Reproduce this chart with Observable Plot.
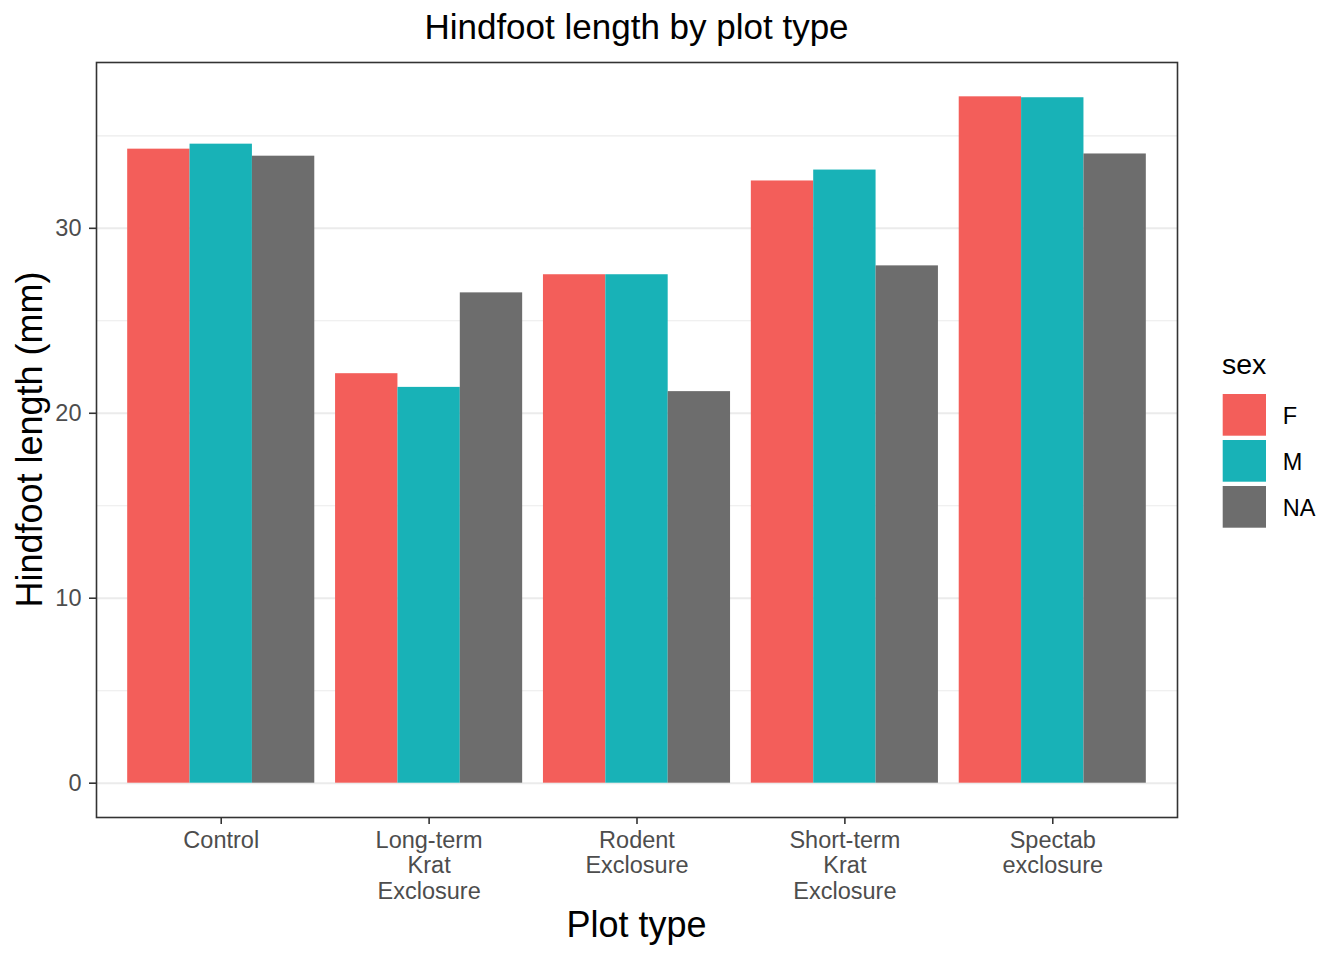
<!DOCTYPE html>
<html>
<head>
<meta charset="utf-8">
<script src="https://cdn.jsdelivr.net/npm/d3@7"></script>
<script src="https://cdn.jsdelivr.net/npm/@observablehq/plot@0.6"></script>
<style>
  html, body { margin: 0; padding: 0; background: #fff; }
  #chart { position: relative; width: 1344px; height: 960px; }
  #chart > svg { position: absolute; left: 0; top: 0; }
  svg { font-family: "Liberation Sans", Arial, Helvetica, sans-serif; }
</style>
</head>
<body>
<div id="chart"></div>
<script>
const categories = ["Control", "Long-term Krat Exclosure", "Rodent Exclosure", "Short-term Krat Exclosure", "Spectab exclosure"];
const tickLabels = ["Control", "Long-term\nKrat\nExclosure", "Rodent\nExclosure", "Short-term\nKrat\nExclosure", "Spectab\nexclosure"];
const sexes = ["F", "M", "NA"];
const valuesF = [34.28, 22.14, 27.49, 32.56, 37.11];
const valuesM = [34.55, 21.40, 27.49, 33.15, 37.06];
const valuesNA = [33.90, 26.51, 21.17, 27.97, 34.02];
const yMajorTicks = [0, 10, 20, 30];
const yMinorTicks = [5, 15, 25, 35];
const colors = ["#F35E5A", "#18B2B7", "#6D6D6D"];

const seriesValues = [valuesF, valuesM, valuesNA];
const data = categories.flatMap((c, i) =>
  sexes.map((s, j) => ({category: c, sex: s, value: seriesValues[j][i]}))
);
const labelOf = new Map(categories.map((c, i) => [c, tickLabels[i]]));

const W = 1344, H = 960;
const mL = 96, mR = 167, mT = 62, mB = 143;
const ymax = d3.max(data, d => d.value);
const pad = ymax * 0.05;
const yDomain = [-pad, ymax + pad];
const font = "Liberation Sans, Arial, Helvetica, sans-serif";

// Background layer: panel grid, frame and y axis (full panel width)
const back = Plot.plot({
  width: W, height: H,
  marginLeft: mL, marginRight: mR, marginTop: mT, marginBottom: mB,
  style: {fontFamily: font, background: "#fff"},
  x: {domain: categories, axis: null},
  y: {domain: yDomain, axis: null},
  marks: [
    Plot.ruleY(yMinorTicks, {y: d => d, stroke: "#ebebeb", strokeWidth: 1.1}),
    Plot.ruleY(yMajorTicks, {y: d => d, stroke: "#ebebeb", strokeWidth: 2.1}),
    Plot.frame({stroke: "#333333", strokeWidth: 1.6}),
    Plot.axisY({
      ticks: yMajorTicks,
      tickSize: 7,
      tickPadding: 8,
      fontSize: 23.5,
      fill: "#4d4d4d",
      stroke: "#333333",
      strokeWidth: 1.6,
      label: null
    })
  ]
});

// Foreground layer: dodged bars via faceting on plot type
const front = Plot.plot({
  width: W, height: H,
  marginLeft: mL, marginRight: mR, marginTop: mT, marginBottom: mB,
  style: {fontFamily: font, background: "transparent"},
  fx: {domain: categories, paddingInner: 0.1, paddingOuter: 0.15, round: false, axis: null, label: null},
  x: {domain: sexes, padding: 0, round: false, axis: null, label: null},
  y: {domain: yDomain, axis: null, label: null},
  color: {domain: sexes, range: colors},
  marks: [
    Plot.barY(data, {fx: "category", x: "sex", y: "value", fill: "sex"}),
    Plot.axisFx({
      anchor: "bottom",
      tickSize: 7,
      tickPadding: 5,
      fontSize: 23.5,
      lineHeight: 1.09,
      fill: "#4d4d4d",
      stroke: "#333333",
      strokeWidth: 1.6,
      tickFormat: d => labelOf.get(d),
      label: null
    })
  ]
});

const chart = document.getElementById("chart");
chart.appendChild(back);
chart.appendChild(front);

const svg = d3.select(front);
const panelCx = mL + (W - mL - mR) / 2;

// Title
svg.append("text")
  .attr("x", panelCx).attr("y", 39)
  .attr("text-anchor", "middle")
  .attr("font-size", 35)
  .attr("fill", "#000")
  .text("Hindfoot length by plot type");

// X axis title
svg.append("text")
  .attr("x", panelCx).attr("y", 936.7)
  .attr("text-anchor", "middle")
  .attr("font-size", 36)
  .attr("fill", "#000")
  .text("Plot type");

// Y axis title
svg.append("text")
  .attr("transform", `translate(41.7, ${(mT + H - mB) / 2}) rotate(-90)`)
  .attr("text-anchor", "middle")
  .attr("font-size", 36)
  .attr("fill", "#000")
  .text("Hindfoot length (mm)");

// Legend
const color = front.scale("color");
const lg = svg.append("g").attr("text-anchor", "start");
lg.append("text")
  .attr("x", 1222).attr("y", 374.3)
  .attr("text-anchor", "start")
  .attr("font-size", 28.5)
  .attr("fill", "#000")
  .text("sex");
sexes.forEach((s, i) => {
  const y0 = 394 + i * 46;
  lg.append("rect")
    .attr("x", 1222.7).attr("y", y0)
    .attr("width", 43.3).attr("height", 41.7)
    .attr("fill", color.apply(s));
  lg.append("text")
    .attr("x", 1282.7).attr("y", y0 + 30.3)
    .attr("text-anchor", "start")
    .attr("font-size", 23.5)
    .attr("fill", "#000")
    .text(s);
});
</script>
</body>
</html>
